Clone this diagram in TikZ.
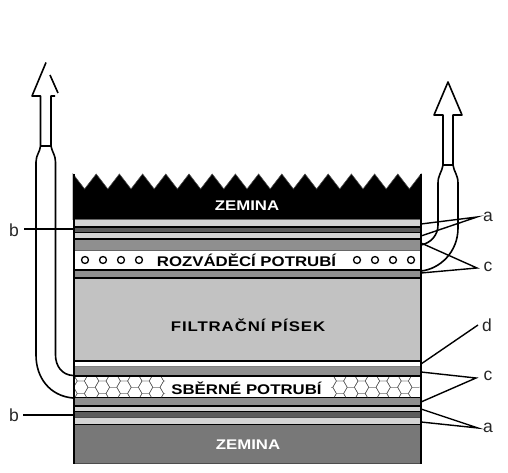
\documentclass[tikz,border=0pt]{standalone}
\usepackage{fontspec}
\setmainfont{Liberation Sans}
\newfontfamily\capfont[FakeStretch=1.2,BoldFont={Liberation Sans Bold}]{Liberation Sans}
\newfontfamily\capwide[FakeStretch=1.2,LetterSpace=6.5,BoldFont={Liberation Sans Bold}]{Liberation Sans}
\begin{document}
\begin{tikzpicture}[x=1bp,y=-1bp,
  layer/.style={fill=#1,draw=none},
  rule/.style={fill=black,draw=none},
  pipeline/.style={draw=black,line width=1.6bp,line join=round,fill=none},
  leader/.style={draw=black,line width=1.4bp},
  hole/.style={circle,draw=black,line width=1.3bp,fill=white,minimum size=7bp,inner sep=0pt},
  cap/.style={font=\capfont\fontsize{14bp}{15bp}\selectfont\bfseries,inner sep=0pt,text=#1},
  cap/.default=black,
  capw/.style={font=\capwide\fontsize{14bp}{15bp}\selectfont\bfseries,inner sep=0pt,text=black},
  mark label/.style={font=\fontsize{17.5bp}{18bp}\selectfont,inner sep=0pt,text=black!85}]
\useasboundingbox (0,0) rectangle (508,473);
\definecolor{sand}{gray}{0.76}
\definecolor{midg}{gray}{0.56}
\definecolor{darkg}{gray}{0.36}
\definecolor{lightg}{gray}{0.83}
\definecolor{soil}{gray}{0.47}
% top soil
\fill[black,draw=black!70,line width=0.6bp] (73,174)
  \foreach \i in {0,...,14}{ -- ({73+(\i+.5)*23.2},189) -- ({73+(\i+1)*23.2},174)} -- (421,219.5) -- (73,219.5) -- cycle;
% top layers
\fill[layer=lightg] (73,220) rectangle (421,226);
\fill[layer=darkg] (73,228) rectangle (421,232.5);
\fill[layer=lightg] (73,233) rectangle (421,238);
\fill[layer=midg] (73,240) rectangle (421,250);
\fill[layer=white] (73,250) rectangle (421,269);
\fill[layer=midg] (73,271) rectangle (421,277);
\fill[layer=sand] (73,279) rectangle (421,360);
\draw[black!60,line width=.8bp] (73,219.7) -- (421,219.7);
\fill[rule] (73,226) rectangle (421,228);
\fill[rule] (73,232.3) rectangle (421,233.5);
\fill[rule] (73,238) rectangle (421,240);
\draw[black!60,line width=1bp] (73,250) -- (421,250);
\fill[rule] (73,268.5) rectangle (421,271);
\fill[rule] (73,277) rectangle (421,279);
% bottom layers
\fill[layer=white] (73,362) rectangle (421,367);
\fill[layer=midg] (73,367) rectangle (421,375);
\fill[layer=white] (73,377) rectangle (421,397);
\fill[layer=midg] (73,398) rectangle (421,405);
\fill[layer=lightg] (73,407) rectangle (421,411);
\fill[layer=darkg] (73,412) rectangle (421,417);
\fill[layer=lightg] (73,418) rectangle (421,424);
\fill[layer=soil] (73,425) rectangle (421,463);
\fill[rule] (73,360) rectangle (421,362);
\draw[black!50,line width=.6bp] (73,366.7) -- (421,366.7);
\fill[rule] (73,375) rectangle (421,377);
\fill[rule] (73,397) rectangle (421,398);
\fill[rule] (73,405) rectangle (421,407);
\fill[rule] (73,411) rectangle (421,412.2);
\fill[black!70] (73,417) rectangle (421,418);
\fill[rule] (73,424) rectangle (421,425);
\fill[black!70] (73,463) rectangle (421,464.2);
% honeycomb
\begin{scope}
\clip (75,377) rectangle (165,397) (331,377) rectangle (419,397);
\foreach \c in {0,...,33}{
  \pgfmathsetmacro{\cx}{70+\c*10.8}
  \pgfmathsetmacro{\off}{mod(\c,2)*6.25}
  \foreach \r in {-1,0,1,2}{
    \pgfmathsetmacro{\cy}{381+\r*12.5+\off}
    \draw[black!65,line width=.45bp,shift={(\cx,\cy)}]
      (-3.6,-6.25) -- (3.6,-6.25) -- (7.2,0) -- (3.6,6.25) -- (-3.6,6.25) -- (-7.2,0) -- cycle;
  }
}
\end{scope}
% side walls
\draw[black,line width=2bp] (74,174) -- (74,464);
\draw[black,line width=2bp] (420.5,174) -- (420.5,464);
% holes in the distribution pipe
\foreach \n/\x in {l1/85,l2/103,l3/121,l4/139,r1/357,r2/375,r3/393,r4/411}{
  \node[hole] (\n) at (\x,260) {};
}
% captions
\node[cap=white] (zemina1) at (247,206) {ZEMINA};
\node[cap] (rozvod) at (246.5,260) {ROZVÁDĚCÍ POTRUBÍ};
\node[capw] (pisek) at (248,325) {FILTRAČNÍ PÍSEK};
\node[cap] (sber) at (246.5,388) {SBĚRNÉ POTRUBÍ};
\node[cap=white] (zemina2) at (248,445) {ZEMINA};
% left pipe
\draw[pipeline] (73,398) .. controls (50,396) and (36,378) .. (36,355) -- (36,162)
  .. controls (36,155) and (40,152) .. (40.5,146) -- (40.5,96) -- (32,96) -- (46,62.5);
\draw[pipeline] (50,75) -- (58,93);
\draw[pipeline] (55,96) -- (51,96) -- (51,146) .. controls (52,152) and (55.5,155) .. (55.5,162) -- (55.5,355)
  .. controls (55.5,366) and (62,375) .. (73,375.5);
\draw[pipeline] (40.5,146) -- (51,146);
% right pipe
\draw[pipeline] (421,245) .. controls (431,243) and (438,235) .. (438,225) -- (438,183)
  .. controls (438,175) and (442,172) .. (443,165) -- (443,115) -- (434,115) -- (448,82) -- (462,115)
  -- (453,115) -- (453,165) .. controls (454,172) and (458,175) .. (458,183) -- (458,228)
  .. controls (458,252) and (440,269) .. (421,271);
\draw[pipeline] (443,165) -- (453,165);
% labels
\node[mark label] (bt) at (14,230) {b};
\node[mark label] (bb) at (14,415) {b};
\node[mark label] (a1) at (488,217) {a};
\node[mark label] (c1) at (488,267) {c};
\node[mark label] (d1) at (487,325) {d};
\node[mark label] (c2) at (488,376) {c};
\node[mark label] (a2) at (488,428) {a};
% leader ends on the wall
\coordinate (bte) at (73,229);
\coordinate (bbe) at (73,415);
\coordinate (a1x) at (421,224);
\coordinate (a1y) at (421,236);
\coordinate (c1x) at (421,243);
\coordinate (c1y) at (421,273);
\coordinate (d1x) at (421,364);
\coordinate (c2x) at (421,372);
\coordinate (c2y) at (421,402);
\coordinate (a2x) at (421,409);
\coordinate (a2y) at (421,422);
\coordinate (a1s) at (477,217);
\coordinate (c1s) at (477,268);
\coordinate (d1s) at (478,325);
\coordinate (c2s) at (476,378);
\coordinate (a2s) at (478,428);
\coordinate (bts) at (24,229);
\coordinate (bbs) at (23,415);
\draw[leader] (bts) -- (bte);
\draw[leader,line width=2bp] (bbs) -- (bbe);
\draw[leader] (a1x) -- (a1s) -- (a1y);
\draw[leader] (c1x) -- (c1s) -- (c1y);
\draw[leader] (d1s) -- (d1x);
\draw[leader] (c2x) -- (c2s) -- (c2y);
\draw[leader] (a2x) -- (a2s) -- (a2y);
\end{tikzpicture}
\end{document}
